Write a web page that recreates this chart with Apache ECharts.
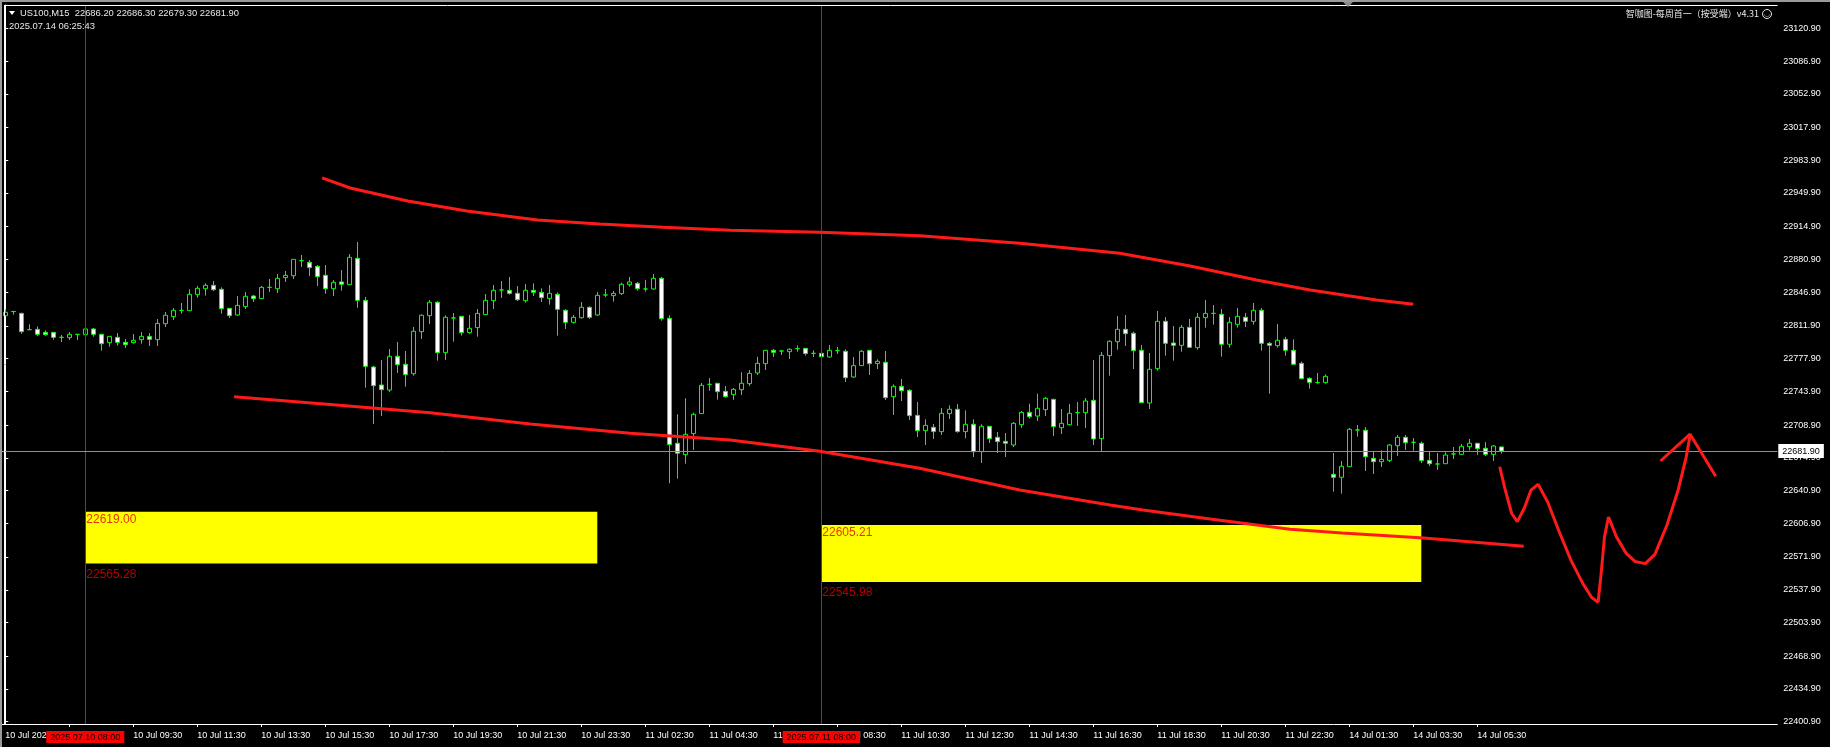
<!DOCTYPE html>
<html><head><meta charset="utf-8">
<script src="https://cdn.jsdelivr.net/npm/echarts@6/dist/echarts.min.js"></script>
<style>html,body{margin:0;padding:0;background:#000;}#c{width:1830px;height:747px;}</style>
</head><body><div id="c"></div>
<script>
// ---- categories (15-minute bars per trading session) ----
const sessionDays  = ['10 Jul', '11 Jul', '14 Jul'];
const sessionFirst = ['05:30', '01:00', '01:00'];
const sessionLast  = ['23:45', '23:45', '06:15'];

// ---- OHLC ----
const opens = [
22822.5,22826.9,22824.9,22808.0,22808.3,22805.2,22805.2,22800.0,22799.7,22803.1,
22802.8,22808.7,22803.1,22794.5,22800.0,22794.8,22794.5,22797.6,22801.0,22797.6,
22814.2,22821.5,22828.0,22827.7,22844.3,22850.5,22854.0,22849.9,22830.1,22823.2,
22831.9,22842.9,22840.2,22851.9,22850.5,22862.0,22864.0,22879.6,22877.9,22873.7,
22864.4,22850.5,22857.5,22854.7,22882.0,22838.4,22769.2,22750.5,22745.3,22780.3,
22772.0,22762.3,22805.9,22822.5,22836.4,22784.1,22820.1,22821.8,22804.9,22810.1,
22823.6,22838.1,22849.2,22848.8,22845.7,22838.1,22848.8,22846.7,22840.2,22844.7,
22828.1,22815.6,22820.4,22831.2,22823.2,22844.0,22843.3,22845.4,22854.7,22856.1,
22850.2,22850.2,22861.3,22819.7,22690.0,22678.2,22700.0,22720.8,22751.2,22752.3,
22743.9,22740.5,22745.7,22751.9,22763.0,22772.7,22786.5,22785.8,22785.1,22788.3,
22788.6,22783.4,22783.4,22779.6,22786.2,22785.5,22758.8,22770.6,22786.5,22772.7,
22774.1,22738.4,22749.1,22745.0,22719.0,22703.1,22706.6,22702.1,22720.8,22725.3,
22702.1,22709.7,22681.3,22707.6,22696.2,22692.0,22688.2,22709.3,22722.1,22718.3,
22724.9,22735.6,22706.2,22709.3,22721.8,22721.8,22734.6,22694.8,22781.0,22795.5,
22808.3,22804.2,22786.5,22731.8,22767.5,22816.6,22794.1,22791.7,22810.4,22789.3,
22820.4,22824.9,22823.9,22792.8,22813.5,22820.8,22816.6,22828.1,22793.8,22791.4,
22797.9,22786.5,22773.0,22757.4,22753.0,22753.0,22657.8,22654.7,22665.7,22703.8,
22703.5,22674.4,22670.9,22672.3,22687.5,22696.2,22691.0,22690.0,22672.3,22668.5,
22668.8,22678.9,22678.5,22686.5,22690.0,22684.8,22678.5,22686.2];
const closes = [
22826.0,22826.7,22805.9,22808.0,22803.1,22802.8,22800.0,22800.0,22803.1,22803.1,
22808.7,22803.1,22793.4,22801.0,22794.8,22792.4,22796.9,22801.0,22797.9,22814.5,
22822.9,22828.0,22828.0,22844.7,22850.9,22854.0,22849.5,22829.8,22822.5,22833.2,
22842.6,22840.2,22851.9,22851.9,22861.3,22864.4,22881.0,22879.6,22872.4,22863.0,
22850.5,22857.1,22855.1,22883.1,22838.4,22769.9,22749.8,22745.7,22780.3,22771.6,
22761.3,22806.3,22822.9,22836.4,22784.1,22820.8,22820.1,22804.9,22809.4,22824.9,
22838.4,22848.8,22849.2,22845.7,22839.1,22848.8,22846.7,22841.2,22845.7,22829.1,
22815.6,22820.8,22831.2,22820.8,22843.6,22844.0,22845.7,22855.1,22857.5,22850.5,
22850.2,22861.3,22819.4,22688.6,22679.6,22699.3,22720.1,22750.2,22751.2,22743.6,
22738.4,22746.0,22752.3,22762.6,22773.0,22786.5,22784.4,22785.8,22787.6,22788.3,
22783.1,22783.4,22779.9,22786.5,22786.2,22758.1,22770.6,22785.5,22772.7,22775.1,
22737.4,22749.1,22744.6,22718.7,22703.1,22708.6,22702.1,22721.1,22725.3,22702.1,
22709.7,22681.3,22707.6,22694.8,22691.7,22690.0,22710.7,22722.1,22717.6,22726.3,
22736.7,22707.3,22710.7,22721.1,22721.8,22733.9,22694.5,22781.3,22795.9,22808.3,
22803.8,22786.2,22732.2,22766.8,22816.6,22793.8,22791.7,22810.4,22789.6,22820.8,
22824.9,22824.9,22792.8,22815.6,22821.8,22816.6,22828.1,22793.8,22791.7,22796.9,
22786.5,22772.0,22757.1,22753.3,22753.0,22759.5,22654.7,22666.1,22704.5,22703.8,
22676.1,22670.9,22673.3,22688.2,22696.2,22690.6,22691.0,22672.0,22668.8,22668.5,
22677.8,22678.9,22686.8,22690.0,22684.4,22678.5,22687.2,22681.9];
const lows = [
22822.5,22823.5,22803.8,22807.3,22801.4,22801.7,22797.6,22795.2,22797.2,22797.2,
22802.8,22800.7,22786.2,22790.3,22791.4,22788.9,22793.4,22793.4,22791.0,22791.0,
22810.7,22818.0,22824.6,22827.7,22841.2,22843.3,22848.1,22824.6,22820.1,22822.2,
22829.4,22836.7,22840.2,22847.1,22846.0,22857.5,22860.6,22873.0,22863.7,22853.3,
22845.4,22842.9,22848.5,22854.7,22830.8,22747.8,22710.0,22718.3,22743.3,22763.0,
22748.8,22760.2,22798.3,22813.9,22775.8,22776.5,22795.5,22801.8,22803.8,22800.7,
22823.6,22829.4,22840.9,22844.3,22837.7,22836.0,22842.9,22836.7,22833.9,22801.8,
22808.7,22814.2,22819.4,22819.1,22822.2,22841.6,22837.1,22844.0,22852.6,22848.5,
22847.4,22849.5,22817.3,22648.4,22653.3,22668.8,22683.0,22720.8,22744.6,22735.3,
22737.4,22735.0,22740.1,22749.5,22760.9,22766.1,22779.6,22781.7,22777.5,22785.1,
22781.0,22779.6,22779.6,22778.9,22782.7,22753.6,22758.1,22770.6,22760.9,22767.1,
22735.0,22719.4,22733.9,22714.2,22696.5,22688.2,22694.5,22698.6,22715.2,22701.0,
22695.1,22675.8,22669.5,22690.3,22679.9,22675.8,22686.1,22705.9,22715.6,22713.1,
22718.3,22697.6,22699.6,22708.6,22708.0,22705.9,22688.2,22681.3,22760.2,22787.2,
22791.0,22767.1,22732.2,22725.6,22765.4,22781.0,22775.8,22785.1,22789.6,22787.2,
22810.1,22813.2,22779.9,22789.3,22810.1,22810.8,22813.2,22786.2,22741.5,22789.3,
22781.0,22772.0,22756.4,22746.7,22751.9,22751.9,22639.8,22637.7,22665.7,22696.9,
22661.2,22658.1,22665.4,22670.6,22676.8,22683.0,22682.3,22669.5,22666.4,22662.3,
22668.8,22673.7,22678.5,22682.7,22677.8,22676.8,22671.6,22679.3];
const highs = [
22829.1,22827.4,22825.6,22813.5,22811.4,22807.3,22805.5,22802.4,22805.5,22803.1,
22808.7,22809.7,22803.8,22801.0,22804.5,22798.3,22803.5,22805.5,22804.5,22819.0,
22826.3,22830.5,22835.7,22849.9,22853.3,22856.1,22858.5,22851.9,22830.5,22842.9,
22847.1,22844.0,22853.3,22860.6,22865.8,22868.9,22881.0,22885.5,22880.3,22875.1,
22875.1,22859.5,22869.9,22886.5,22899.0,22841.9,22770.3,22776.5,22787.9,22795.2,
22785.8,22810.8,22823.9,22838.8,22837.4,22822.9,22825.3,22821.8,22823.2,22829.4,
22845.0,22854.4,22858.5,22862.7,22853.3,22855.4,22856.1,22850.9,22854.4,22846.7,
22829.1,22823.2,22836.7,22832.2,22847.1,22850.2,22848.1,22856.8,22862.7,22857.5,
22859.5,22865.8,22862.7,22822.9,22720.1,22736.7,22721.8,22752.6,22757.8,22752.3,
22749.5,22747.4,22763.7,22766.1,22779.9,22786.5,22787.9,22786.9,22788.6,22791.7,
22788.6,22786.5,22784.1,22792.1,22790.0,22787.6,22779.6,22786.9,22786.5,22777.2,
22785.8,22751.2,22756.8,22746.0,22732.9,22714.9,22710.0,22726.6,22729.4,22730.8,
22724.2,22714.9,22709.7,22707.6,22701.7,22700.7,22712.1,22723.5,22731.1,22741.5,
22738.1,22736.3,22725.6,22730.8,22732.9,22737.0,22776.5,22784.8,22796.9,22822.2,
22823.2,22805.9,22792.1,22783.8,22827.4,22821.1,22811.8,22812.8,22819.1,22825.3,
22838.8,22833.6,22829.4,22821.1,22830.5,22825.3,22835.7,22830.5,22795.2,22813.9,
22800.4,22797.9,22774.8,22758.5,22763.0,22761.6,22679.9,22671.6,22705.9,22709.0,
22706.9,22681.0,22682.7,22689.3,22698.6,22698.6,22695.5,22691.7,22682.0,22679.9,
22680.6,22686.1,22689.3,22694.5,22690.0,22691.3,22688.2,22686.3];

// ---- axis tick labels ----
const yTickLabels = ['22400.90','22434.90','22468.90','22503.90','22537.90','22571.90','22606.90',
  '22640.90','22674.90','22708.90','22743.90','22777.90','22811.90','22846.90','22880.90',
  '22914.90','22949.90','22983.90','23017.90','23052.90','23086.90','23120.90'];
const firstDateLabel = '10 Jul 2025';

// ---- objects drawn on the chart ----
const vLineIdx  = [10, 102];
const vLineText = ['2025.07.10 08:00', '2025.07.11 08:00'];
const lastPrice = 22681.90;
const boxStart  = [10, 102];
const boxEnd    = [74, 177];
const boxTop    = [22619.00, 22605.21];
const boxBottom = [22565.28, 22545.98];

const upperLine = [[39.6,22965.5],[43.1,22955.1],[50.3,22941.6],[57.7,22931.2],[66.5,22921.8],
  [74.3,22917.7],[82.2,22914.3],[90.6,22911.2],[101.8,22909.1],[114.3,22905.5],[126.8,22897.6],
  [139.3,22887.3],[148.1,22874.1],[156.4,22859.5],[163.1,22849.2],[171.4,22838.8],[176.0,22834.3]];
const lowerLine = [[28.6,22738.4],[40.6,22730.3],[53.1,22721.8],[65.6,22710.0],[78.1,22700.4],
  [90.6,22693.4],[101.8,22681.7],[114.3,22664.0],[126.8,22641.5],[138.1,22625.9],[142.2,22620.7],
  [150.6,22611.4],[160.6,22600.7],[167.1,22596.8],[177.3,22591.6],[189.8,22583.1]];
const squiggle = [[186.8,22665.6],[187.5,22641.3],[188.3,22617.1],[189.0,22608.6],[189.9,22623.1],
  [190.7,22641.3],[191.6,22647.4],[192.8,22629.1],[194.2,22598.9],[195.7,22568.6],[197.2,22544.3],
  [198.3,22529.8],[199.1,22525.0],[199.5,22556.4],[199.9,22592.8],[200.4,22613.5],[201.4,22592.8],
  [202.6,22575.9],[203.7,22567.3],[205.0,22565.0],[206.2,22574.6],[207.7,22604.9],[209.1,22641.3],
  [210.1,22675.2],[210.6,22698.3]];
const arrowHead = [[206.9,22671.6],[210.6,22699.4],[213.8,22655.8]];

// ---- build ----
function toMin(s){const p=s.split(':');return (+p[0])*60+(+p[1]);}
const times = [];
sessionDays.forEach(function(d,k){
  for(let t=toMin(sessionFirst[k]); t<=toMin(sessionLast[k]); t+=15){
    times.push(d+' '+String(Math.floor(t/60)).padStart(2,'0')+':'+String(t%60).padStart(2,'0'));
  }
});
const SLOTS = 222;
const cats = times.slice();
while (cats.length < SLOTS) cats.push('');
const candles = opens.map(function(o,i){return [o, closes[i], lows[i], highs[i]];});
const N = opens.length;

const F = "'Liberation Sans',Arial,sans-serif";
const FS = 9;
const labelShow = function(i){ return i % 8 === 0 && i < N; };
const tickShow  = function(i){ return i % 8 === 0 && i > 0 && i < N; };

const markLines = vLineIdx.map(function(ix,k){
  return { xAxis: cats[ix], lineStyle:{color:'#ff0000', width:1, type:'solid'},
    label:{show:true, position:'start', formatter: vLineText[k], backgroundColor:'#ff0000',
      color:'#000', padding:[2,4,1,4], fontSize:FS, fontFamily:F, distance:7} };
});
markLines.push({ yAxis: lastPrice, lineStyle:{color:'#8393a3', width:1, type:'solid'},
  label:{show:true, position:'end', formatter: lastPrice.toFixed(2), backgroundColor:'#ffffff',
    color:'#000', padding:[3,4,2,4], fontSize:FS, fontFamily:F, distance:1} });

const boxAreas = boxStart.map(function(s,k){ return [{coord:[s, boxTop[k]]},{coord:[boxEnd[k], boxBottom[k]]}]; });
const boxLabels = [];
boxStart.forEach(function(s,k){
  boxLabels.push({value:[s, boxTop[k]], label:{formatter: boxTop[k].toFixed(2), position:[1,2]}});
  boxLabels.push({value:[s, boxBottom[k]], label:{formatter: boxBottom[k].toFixed(2), position:[1,5]}});
});

function redLine(data){
  return {type:'line', xAxisIndex:1, yAxisIndex:0, data:data, showSymbol:false, symbol:'none',
    lineStyle:{color:'#ff1a1a', width:3}, z:5, silent:true, animation:false};
}

const chart = echarts.init(document.getElementById('c'), null, {renderer:'canvas'});
chart.setOption({
  backgroundColor:'#000',
  animation:false,
  grid:{left:1.3, right:52.7, top:5, bottom:23, containLabel:false},
  xAxis:[
    {type:'category', data:cats, boundaryGap:true,
     axisLine:{show:true, lineStyle:{color:'#ffffff', width:1}},
     axisTick:{show:true, alignWithLabel:true, interval:tickShow, length:3, lineStyle:{color:'#ffffff'}},
     axisLabel:{show:true, interval:labelShow, formatter:function(v,i){return i===0?firstDateLabel:v;},
       color:'#ffffff', align:'left', margin:7, fontSize:FS, fontFamily:F},
     splitLine:{show:false}},
    {type:'value', min:-0.5, max:SLOTS-0.5, show:false, splitLine:{show:false}}
  ],
  yAxis:{type:'value', position:'right', min:22398.5, max:23145.1, scale:true,
    axisLine:{show:true, lineStyle:{color:'#ffffff', width:1}},
    axisTick:{show:true, length:3, lineStyle:{color:'#ffffff'}, customValues:yTickLabels.map(Number)},
    axisLabel:{show:true, customValues:yTickLabels.map(Number), formatter:function(v){return v.toFixed(2);},
      color:'#ffffff', margin:6, fontSize:FS, fontFamily:F},
    splitLine:{show:false}},
  series:[
    {type:'scatter', xAxisIndex:1, yAxisIndex:0, data:boxLabels, symbolSize:0, z:1, silent:true,
     label:{show:true, align:'left', verticalAlign:'top', color:'#e00000', fontSize:12,
       fontFamily:"'Liberation Sans',Arial,sans-serif"},
     markArea:{silent:true, itemStyle:{color:'#ffff00', opacity:1}, data:boxAreas}},
    {type:'candlestick', xAxisIndex:0, yAxisIndex:0, data:candles, barWidth:4, z:2, silent:true,
     itemStyle:{color:'#000000', color0:'#ffffff', borderColor:'#00ff00', borderColor0:'#00ff00',
       borderColorDoji:'#00ff00', borderWidth:1},
     markLine:{symbol:['none','none'], silent:true, animation:false, data:markLines}},
    redLine(upperLine), redLine(lowerLine), redLine(squiggle), redLine(arrowHead)
  ],
  graphic:[
    {type:'rect', shape:{x:0,y:0,width:1830,height:2}, style:{fill:'#9a9a9a'}, silent:true, z:100},
    {type:'rect', shape:{x:0,y:0,width:2,height:747}, style:{fill:'#9a9a9a'}, silent:true, z:100},
    {type:'line', shape:{x1:4.5,y1:5,x2:4.5,y2:724}, style:{stroke:'#ffffff', lineWidth:1}, silent:true, z:100},
    {type:'line', shape:{x1:4,y1:5.5,x2:1777.5,y2:5.5}, style:{stroke:'#ffffff', lineWidth:1}, silent:true, z:100},
    {type:'polygon', shape:{points:[[1343,2],[1353,2],[1348,7]]}, style:{fill:'#8a8a8a'}, silent:true, z:100},
    {type:'polygon', shape:{points:[[9,11],[15,11],[12,15]]}, style:{fill:'#ffffff'}, silent:true, z:100},
    {type:'text', x:20, y:13, silent:true, z:100,
     style:{text:'US100,M15  22686.20 22686.30 22679.30 22681.90', fill:'#e8e8e8', font:'9.4px '+F, textVerticalAlign:'middle'}},
    {type:'text', x:9, y:26, silent:true, z:100,
     style:{text:'2025.07.14 06:25:43', fill:'#e8e8e8', font:'9.4px '+F, textVerticalAlign:'middle'}},
    {type:'text', x:1759, y:14, silent:true, z:100,
     style:{text:'智咖图-每周首一（按受端）v4.31', fill:'#e8e8e8', font:"9px 'Noto Sans CJK SC', "+F, textAlign:'right', textVerticalAlign:'middle'}},
    {type:'circle', shape:{cx:1767, cy:14, r:4.5}, style:{fill:'none', stroke:'#e8e8e8', lineWidth:1}, silent:true, z:100},
    {type:'text', x:1767, y:14, silent:true, z:100,
     style:{text:'◡', fill:'#e8e8e8', font:"7px 'DejaVu Sans'", textAlign:'center', textVerticalAlign:'middle'}}
  ]
});
</script></body></html>
